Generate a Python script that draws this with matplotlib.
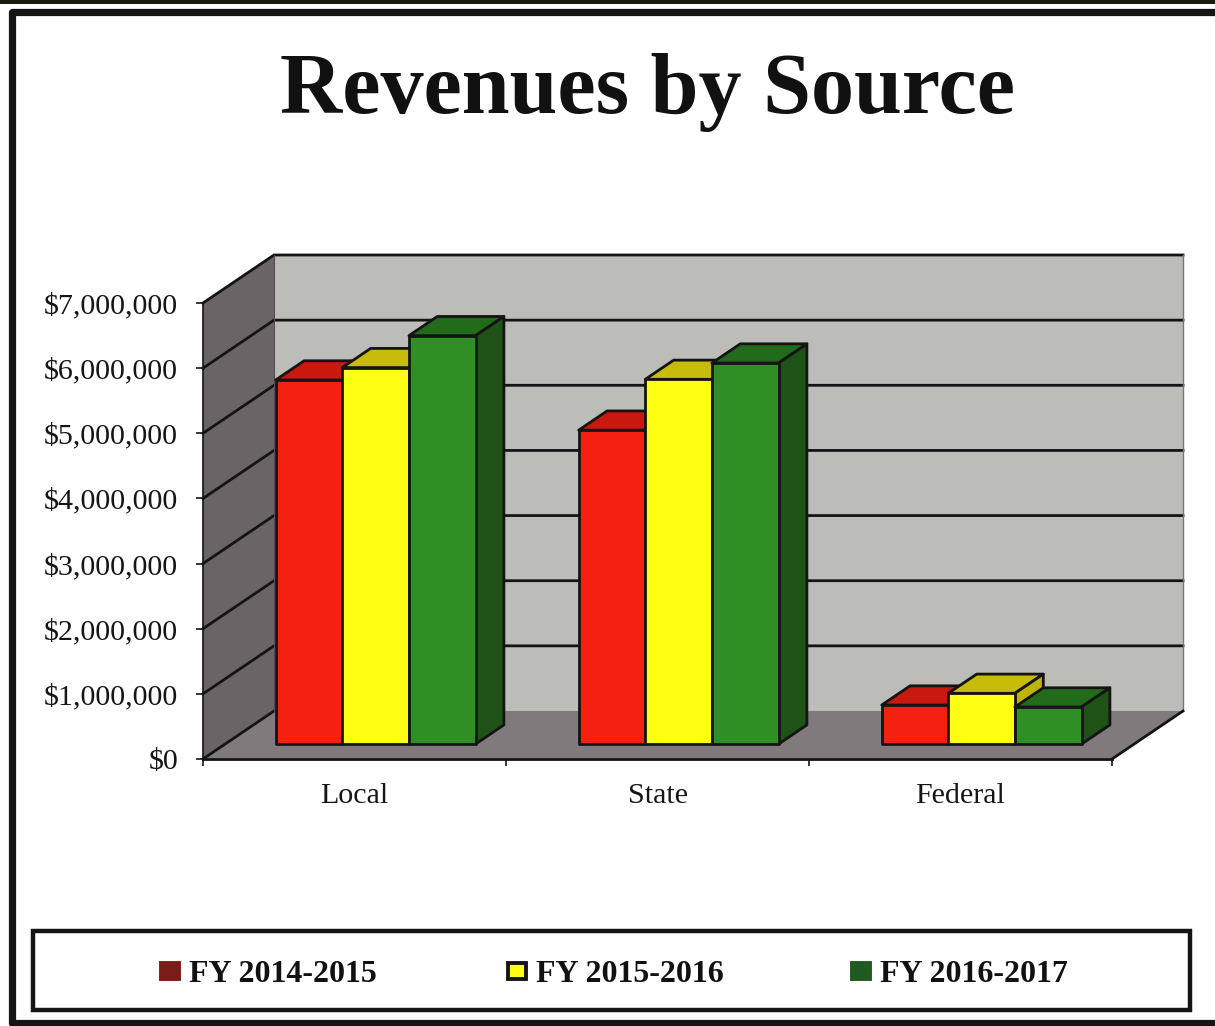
"""Revenues by Source: 3-D look clustered columns, drawn on a plain 2-D axes."""

import matplotlib
matplotlib.use("Agg")
import matplotlib.pyplot as plt
from matplotlib.patches import Polygon, Rectangle

W, H = 1215, 1026

categories = ["Local", "State", "Federal"]
years = ["FY 2014-2015", "FY 2015-2016", "FY 2016-2017"]
fy1415 = [5590000, 4820000, 600000]
fy1516 = [5780000, 5600000, 780000]
fy1617 = [6270000, 5850000, 570000]
y_ticks = [0, 1000000, 2000000, 3000000, 4000000, 5000000, 6000000, 7000000]

plt.rcParams["font.family"] = ["Liberation Serif", "DejaVu Serif"]

# depth of the box: how far the back wall sits from the front plane
DX = 71 / 303          # category units
DY = 48 / 65.14 * 1e6  # dollars
BAR_W = 66.6 / 303
D0, D1 = 0.31, 0.71    # bars sit between these depths
LW = 2.0


def at(x, y, d=0.0):
    return (x + d * DX, y + d * DY)


def poly(ax, pts, color, lw=LW, edge="#141414", z=2):
    ax.add_patch(Polygon(pts, closed=True, facecolor=color, edgecolor=edge,
                         linewidth=lw, joinstyle="round", clip_on=False, zorder=z))


def draw_bar(ax, x, v, front, top, side):
    poly(ax, [at(x, v, D0), at(x + BAR_W, v, D0), at(x + BAR_W, v, D1), at(x, v, D1)], top, z=4)
    poly(ax, [at(x + BAR_W, 0, D0), at(x + BAR_W, 0, D1), at(x + BAR_W, v, D1), at(x + BAR_W, v, D0)],
         side, z=4)
    poly(ax, [at(x, 0, D0), at(x + BAR_W, 0, D0), at(x + BAR_W, v, D0), at(x, v, D0)], front, z=4)


fig = plt.figure(figsize=(W / 100, H / 100), dpi=100, facecolor="white")

# page decoration in pixel coordinates
deco = fig.add_axes([0, 0, 1, 1])
deco.set_xlim(0, W)
deco.set_ylim(H, 0)
deco.axis("off")
deco.add_patch(Rectangle((0, 0), W, 4, facecolor="#1a1a10", edgecolor="none"))
deco.plot([W + 5, 12, 12, W + 5], [12, 12, 1023, 1023], color="#151515", lw=5.2,
          solid_joinstyle="round", clip_on=True)
deco.text(647, 93, "Revenues by Source", ha="center", va="center", fontsize=62,
          fontweight="bold", color="#111111")

# legend box
deco.add_patch(Rectangle((33, 931), 1157, 79, facecolor="white", edgecolor="#151515", lw=3.2))
swatches = ["#7a1c18", "#ffff14", "#1f5a20"]
swatch_edges = ["#7a1c18", "#151515", "#1f5a20"]
swatch_x = [161, 508, 852]
for name, col, ec, sx in zip(years, swatches, swatch_edges, swatch_x):
    deco.add_patch(Rectangle((sx, 963), 18, 16, facecolor=col, edgecolor=ec, lw=2.8))
    deco.text(sx + 28, 974, name, ha="left", va="center", fontsize=23,
              fontweight="bold", color="#111111")

# chart: the axes box is the front plane of the 3-D box
ax = fig.add_axes([203 / W, 1 - 759 / H, 909 / W, 456 / H])
ax.patch.set_visible(False)
ax.set_xlim(0, 3)
ax.set_ylim(0, 7000000)
top = y_ticks[-1]

poly(ax, [at(0, 0, 1), at(3, 0, 1), at(3, top, 1), at(0, top, 1)], "#bcbcb8", lw=0, edge="none", z=1)
poly(ax, [at(0, 0, 0), at(0, 0, 1), at(0, top, 1), at(0, top, 0)], "#6b6466", lw=0, edge="none", z=1)
poly(ax, [at(0, 0, 0), at(3, 0, 0), at(3, 0, 1), at(0, 0, 1)], "#807a7c", lw=0, edge="none", z=1)

for t in y_ticks:
    if t > 0:
        ax.plot(*zip(at(0, t, 0), at(0, t, 1), at(3, t, 1)), color="#141414", lw=LW,
                clip_on=False, zorder=3)
ax.plot(*zip(at(0, 0, 0), at(0, 0, 1)), color="#141414", lw=LW, clip_on=False, zorder=3)
ax.plot(*zip(at(0, 0, 1), at(0, top, 1)), color="#55504f", lw=0.8, clip_on=False, zorder=3)
ax.plot(*zip(at(3, 0, 1), at(3, top, 1)), color="#777777", lw=1.0, clip_on=False, zorder=3)
ax.plot(*zip(at(3, 0, 0), at(3, 0, 1)), color="#141414", lw=LW, clip_on=False, zorder=3)

styles = [("#f5200f", "#c9190e", "#a8150c"),
          ("#ffff14", "#c8bc0a", "#bdb30c"),
          ("#2f8f25", "#226b1a", "#1e5216")]
series = [fy1415, fy1516, fy1617]
for i in range(len(categories)):
    for j, vals in enumerate(series):
        x = i + 0.5 - 1.5 * BAR_W + j * BAR_W - 0.003
        draw_bar(ax, x, vals[i], *styles[j])

for side in ("top", "right"):
    ax.spines[side].set_visible(False)
for side in ("left", "bottom"):
    ax.spines[side].set_color("#141414")
    ax.spines[side].set_zorder(5)
ax.spines["left"].set_linewidth(1.2)
ax.spines["bottom"].set_linewidth(LW)

ax.set_yticks(y_ticks)
ax.set_yticklabels([f"${t:,}" for t in y_ticks], fontsize=21.6, color="#151515",
                   va="center_baseline")
ax.tick_params(axis="y", length=5, width=1.2, pad=13, color="#141414")
ax.set_xticks([0, 1, 2, 3])
ax.set_xticklabels([])
ax.tick_params(axis="x", which="major", length=5, width=1.2, color="#141414")
ax.set_xticks([0.5, 1.5, 2.5], minor=True)
ax.set_xticklabels(categories, minor=True, fontsize=21.6, color="#151515")
ax.tick_params(axis="x", which="minor", length=0, pad=17)

fig.savefig("out.png", dpi=100)
plt.close(fig)
